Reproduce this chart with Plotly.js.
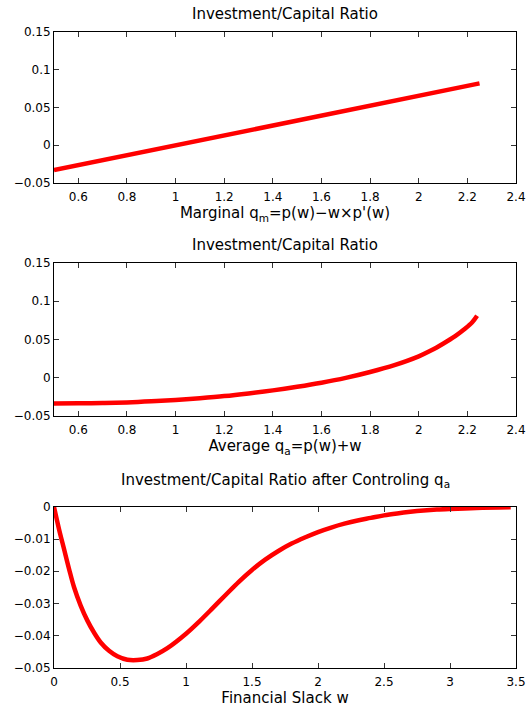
<!DOCTYPE html>
<html>
<head>
<meta charset="utf-8">
<script src="https://cdn.plot.ly/plotly-3.0.1.min.js"></script>
<style>html,body{margin:0;padding:0;background:#fff;}#chart{width:529px;height:713px;}</style>
</head>
<body>
<div id="chart"></div>
<script>
// Panel 1: Investment/Capital ratio vs marginal q
const qm = [0.5, 1.0, 1.5, 2.0, 2.25];
const ikMarginal = [-0.033, 0.0, 0.0329, 0.0657, 0.082];

// Panel 2: Investment/Capital ratio vs average q
const qa = [0.5, 0.6, 0.7, 0.8, 0.9, 1.0, 1.1, 1.2, 1.3, 1.4, 1.5, 1.6, 1.7, 1.8, 1.9, 2.0, 2.05, 2.1, 2.15, 2.19, 2.22, 2.24];
const ikAverage = [-0.0335, -0.0334, -0.0330, -0.0322, -0.0308, -0.0290, -0.0267, -0.0240, -0.0205, -0.0165, -0.0118, -0.0065, -0.0002, 0.0075, 0.0165, 0.0280, 0.0355, 0.0445, 0.0545, 0.0640, 0.0725, 0.0810];

// Panel 3: Investment/Capital ratio after controlling q_a vs financial slack w
const slack = [0, 0.038, 0.076, 0.114, 0.152, 0.202, 0.253, 0.303, 0.354, 0.417, 0.48, 0.556, 0.631, 0.707, 0.783, 0.859, 1.0, 1.1, 1.2, 1.3, 1.4, 1.5, 1.6, 1.7, 1.8, 1.9, 2.0, 2.1, 2.2, 2.3, 2.4, 2.5, 2.6, 2.7, 2.8, 2.9, 3.0, 3.2, 3.46];
const ikResidual = [0, -0.0069, -0.0131, -0.0193, -0.0250, -0.0307, -0.0354, -0.0391, -0.0422, -0.0448, -0.0465, -0.0476, -0.0477, -0.0472, -0.0458, -0.0440, -0.0395, -0.0357, -0.0316, -0.0274, -0.0233, -0.0196, -0.0164, -0.0137, -0.0114, -0.0095, -0.0078, -0.0064, -0.0052, -0.0042, -0.0034, -0.0026, -0.0020, -0.0015, -0.0011, -0.0008, -0.0006, -0.0003, -0.0001];

const titles = ["Investment/Capital Ratio", "Investment/Capital Ratio", "Investment/Capital Ratio after Controling q<sub>a</sub>"];
const xlabels = ["Marginal q<sub>m</sub>=p(w)\u2212w\u00d7p'(w)", "Average q<sub>a</sub>=p(w)+w", "Financial Slack w"];

const H = 713;
const FONT = "DejaVu Sans, Verdana, sans-serif";
const red = "#ff0000";

function dom(topPx, botPx) { return [1 - botPx / H, 1 - topPx / H]; }

const traces = [
  {x: qm, y: ikMarginal, xaxis: "x", yaxis: "y", mode: "lines", line: {color: red, width: 4.5}},
  {x: qa, y: ikAverage, xaxis: "x2", yaxis: "y2", mode: "lines", line: {color: red, width: 4.5, shape: "spline", smoothing: 1}},
  {x: slack, y: ikResidual, xaxis: "x3", yaxis: "y3", mode: "lines", line: {color: red, width: 4.5, shape: "spline", smoothing: 1}}
];

function axis(extra) {
  return Object.assign({
    showline: true, linecolor: "#000", linewidth: 1, mirror: "ticks",
    ticks: "inside", ticklen: 5, tickcolor: "#333", tickwidth: 1,
    showgrid: false, zeroline: false,
    tickfont: {family: FONT, size: 12, color: "#000"}
  }, extra);
}

function xtitle(t) {
  return {text: t, font: {family: FONT, size: 15, color: "#000"}, standoff: 2};
}

const layout = {
  width: 529, height: 713,
  margin: {l: 54, r: 13, t: 0, b: 0},
  paper_bgcolor: "#fff", plot_bgcolor: "#fff",
  showlegend: false,
  font: {family: FONT, color: "#000"},
  xaxis: axis({domain: [0, 1], anchor: "y", range: [0.5, 2.4], dtick: 0.2, tick0: 0, ticklabelstandoff: 3, title: xtitle(xlabels[0])}),
  yaxis: axis({domain: dom(32, 183), anchor: "x", range: [-0.05, 0.15], dtick: 0.05}),
  xaxis2: axis({domain: [0, 1], anchor: "y2", range: [0.5, 2.4], dtick: 0.2, tick0: 0, ticklabelstandoff: 3, title: xtitle(xlabels[1])}),
  yaxis2: axis({domain: dom(263, 416), anchor: "x2", range: [-0.05, 0.15], dtick: 0.05}),
  xaxis3: axis({domain: [0, 1], anchor: "y3", range: [0, 3.5], dtick: 0.5, ticklabelstandoff: 3, title: xtitle(xlabels[2])}),
  yaxis3: axis({domain: dom(507, 667.5), anchor: "x3", range: [-0.05, 0], dtick: 0.01}),
  annotations: [
    {text: titles[0], x: 0.5, y: 1 - 14 / H},
    {text: titles[1], x: 0.5, y: 1 - 245 / H},
    {text: titles[2], x: 0.5, y: 1 - 480 / H}
  ].map(a => Object.assign({xref: "paper", yref: "paper", xanchor: "center", yanchor: "middle", showarrow: false, font: {family: FONT, size: 15, color: "#000"}}, a))
};

Plotly.newPlot("chart", traces, layout, {displayModeBar: false});
</script>
</body>
</html>
